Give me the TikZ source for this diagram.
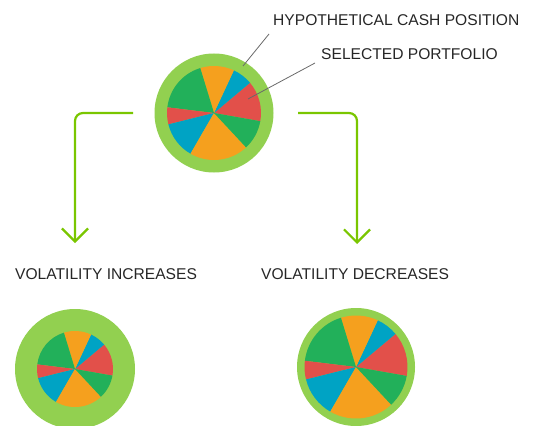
\documentclass[tikz,border=0pt]{standalone}
\usepackage{fontspec}
\setmainfont{Liberation Sans}
\usetikzlibrary{arrows.meta, positioning}
\definecolor{ringgreen}{RGB}{146,208,80}
\definecolor{arrowgreen}{RGB}{122,198,0}
\definecolor{slicegreen}{RGB}{34,176,90}
\definecolor{sliceorange}{RGB}{245,160,30}
\definecolor{sliceblue}{RGB}{0,163,196}
\definecolor{slicered}{RGB}{226,80,74}
\definecolor{leadgray}{RGB}{105,105,105}
\tikzstyle{ring} = [circle, fill=ringgreen, inner sep=0pt]
\tikzstyle{lbl} = [anchor=base west, inner sep=0pt, text=black!85, font=\fontsize{15.6}{18}\selectfont]
\tikzstyle{flow} = [draw=arrowgreen, line width=2.2pt, rounded corners=8pt, -{Straight Barb[length=13pt, width=26pt]}]
\tikzstyle{leader} = [draw=leadgray, line width=0.8pt]
% pie slices round the centre of a ring node (y axis points down, so angles are negated)
\newcommand{\drawpie}[2]{
  \foreach \a/\b/\c in {-10/40/slicered, 40/65/sliceblue, 65/107/sliceorange, 107/173/slicegreen,
                        173/194/slicered, 194/240/sliceblue, 240/313/sliceorange, 313/350/slicegreen}
    \fill[\c] (#1.center) -- ++(-\a:#2) arc (-\a:-\b:#2) -- cycle;
}

\begin{document}
\begin{tikzpicture}[x=1pt, y=-1pt]
			\useasboundingbox (0,0) rectangle (534,425);
			
			\node [ring, minimum size=119pt] (top) at (214,113) {};
			\node [ring, minimum size=120pt] (up) at (75,369) {};
			\node [ring, minimum size=118pt] (down) at (356,367) {};
			\drawpie{top}{47}
			\drawpie{up}{38}
			\drawpie{down}{51.5}
			
			\node [lbl] (cash) at (273,26) {HYPOTHETICAL CASH POSITION};
			\node [lbl] (sel) at (321,60) {SELECTED PORTFOLIO};
			\node [lbl] (inc) at (15,279) {VOLATILITY INCREASES};
			\node [lbl] (dec) at (261,279) {VOLATILITY DECREASES};
			
			\coordinate (cashpt) at (243,66);
			\coordinate (cashend) at (269,34);
			\coordinate (selpt) at (248,99);
			\coordinate (selend) at (315,63);
			\path [leader] (cashend) -- (cashpt);
			\path [leader] (selend) -- (selpt);
			
			\coordinate (lstart) at (133,113);
			\coordinate (lend) at (75,243);
			\coordinate (rstart) at (298,113);
			\coordinate (rend) at (357,244);
			\path [flow] (lstart) -| (lend);
			\path [flow] (rstart) -| (rend);
		\end{tikzpicture}
\end{document}
